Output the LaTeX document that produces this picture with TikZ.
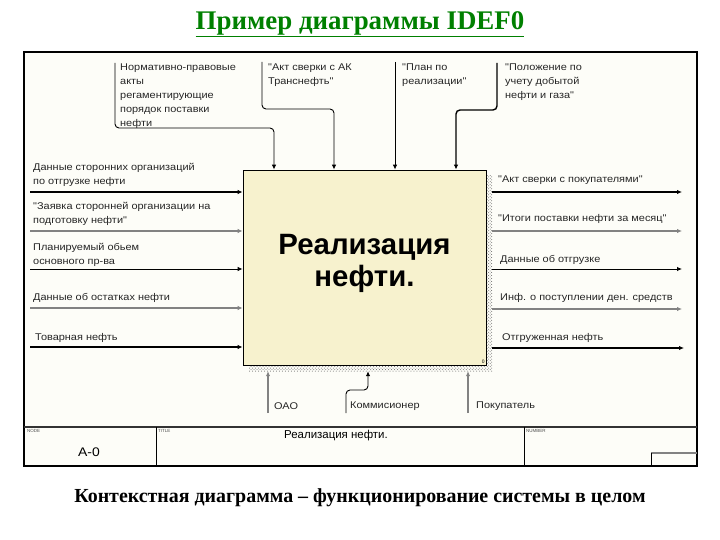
\documentclass[tikz,border=0pt]{standalone}
\usepackage{fontspec}
\setmainfont{Liberation Serif}
\setsansfont{Liberation Sans}
\newfontfamily\widesans[FakeStretch=1.12]{Liberation Sans}
\usetikzlibrary{arrows.meta,patterns}
\definecolor{boxfill}{RGB}{247,242,206}
\definecolor{titlegreen}{RGB}{0,128,0}
\definecolor{lgray}{RGB}{130,130,130}
\definecolor{pagebg}{RGB}{253,253,248}
\begin{document}
\begin{tikzpicture}[x=1bp,y=-1bp,
  lbl/.style={font=\widesans\fontsize{9.8}{14}\selectfont, anchor=north west, inner sep=0pt, align=left, text=black!85},
  arr/.style={-{Latex[length=5bp,width=4.5bp]}, line width=0.9bp, black},
  thickarr/.style={arr, line width=1.7bp},
  grayarr/.style={arr, draw=lgray, line width=1.1bp},
  bracket/.style={rounded corners=4bp},
  tiny/.style={font=\sffamily\fontsize{4.5}{5}\selectfont, anchor=north west, inner sep=0pt, text=black!70}
]
\useasboundingbox (0,0) rectangle (720,540);
\fill[white] (0,0) rectangle (720,540);
\fill[pagebg] (24,52) rectangle (697,466);

% title and caption
\node[font=\bfseries\fontsize{27}{30}\selectfont, text=titlegreen, inner sep=0pt] (title) at (360,24) {\underline{Пример диаграммы IDEF0}};
\node[font=\bfseries\fontsize{20}{24}\selectfont, inner sep=0pt] (caption) at (360,498) {Контекстная диаграмма – функционирование системы в целом};

% frame and title block
\draw[line width=1.8bp] (24,52) rectangle (697,466);
\draw[line width=2bp, black!80] (24,427) -- (697,427);
\draw[line width=1bp] (156,427) -- (156,466);
\draw[line width=1bp] (524,427) -- (524,466);
\draw[line width=1.5bp, lgray] (651,453) -- (697,453);
\draw[line width=0.8bp] (651,453) -- (651,466);
\node[tiny] (nodelbl) at (27,429) {NODE};
\node[tiny] (titlelbl) at (158,429) {TITLE};
\node[tiny] (numlbl) at (526,429) {NUMBER};
\node[font=\widesans\fontsize{12.5}{14}\selectfont, inner sep=0pt] (nodeno) at (89,452) {A-0};
\node[font=\sffamily\fontsize{11.5}{14}\selectfont, inner sep=0pt] (titletxt) at (336,436) {Реализация нефти.};

% activity box
\node[draw=none, pattern=crosshatch dots, pattern color=black!60, minimum width=243bp, minimum height=195bp, inner sep=0pt] (shade) at (370.5,273.5) {};
\node[draw, fill=boxfill, line width=0.8bp, minimum width=243bp, minimum height=195bp, inner sep=0pt] (box) at (364.5,267.5) {};
\node[font=\sffamily\bfseries\fontsize{29.5}{33}\selectfont, align=center, inner sep=0pt] (boxtext) at ([yshift=4bp]box.center) {Реализация\\нефти.};
\node[font=\sffamily\fontsize{5}{6}\selectfont, anchor=south east, inner sep=1.5pt] (boxno) at (box.south east) {0};

% inputs
\coordinate (i1) at (30,192);
\coordinate (i2) at (30,231);
\coordinate (i3) at (30,269);
\coordinate (i4) at (30,308);
\coordinate (i5) at (30,347);
\draw[thickarr] (i1) -- (box.west |- i1);
\draw[grayarr] (i2) -- (box.west |- i2);
\draw[arr] (i3) -- (box.west |- i3);
\draw[grayarr] (i4) -- (box.west |- i4);
\draw[thickarr, line width=2bp] (i5) -- (box.west |- i5);
\node[lbl] (li1) at (33,163) {Данные сторонних организаций\\по отгрузке нефти};
\node[lbl] (li2) at (33,202) {"Заявка сторонней организации на\\подготовку нефти"};
\node[lbl] (li3) at (33,243) {Планируемый обьем\\основного пр-ва};
\node[lbl] (li4) at (33,293) {Данные об остатках нефти};
\node[lbl] (li5) at (35,333) {Товарная нефть};

% outputs
\coordinate (o1) at (682,192);
\coordinate (o2) at (682,231);
\coordinate (o3) at (682,269);
\coordinate (o4) at (682,309);
\coordinate (o5) at (684,348);
\draw[thickarr] (shade.east |- o1) -- (o1);
\draw[grayarr] (shade.east |- o2) -- (o2);
\draw[arr] (shade.east |- o3) -- (o3);
\draw[grayarr] (shade.east |- o4) -- (o4);
\draw[thickarr, line width=2bp] (shade.east |- o5) -- (o5);
\node[lbl] (lo1) at (498,176) {"Акт сверки с покупателями"};
\node[lbl] (lo2) at (498,214) {"Итоги поставки нефти за месяц"};
\node[lbl] (lo3) at (500,255) {Данные об отгрузке};
\node[lbl] (lo4) at (500,293) {Инф. о поступлении ден. средств};
\node[lbl] (lo5) at (502,333) {Отгруженная нефть};

% controls
\coordinate (c1a) at (115,63);
\coordinate (c1b) at (274,128);
\coordinate (c2a) at (262,62);
\coordinate (c2b) at (334,109);
\coordinate (c3a) at (395,62);
\coordinate (c4a) at (497,63);
\coordinate (c4b) at (456,110);
\draw[arr, bracket] (c1a) |- (c1b) -- (box.north -| c1b);
\draw[arr, bracket] (c2a) |- (c2b) -- (box.north -| c2b);
\draw[arr] (c3a) -- (box.north -| c3a);
\draw[thickarr, line width=1.4bp, bracket] (c4a) |- (c4b) -- (box.north -| c4b);
\node[lbl] (lc1) at (120,64) {Нормативно-правовые\\акты\\регаментирующие\\порядок поставки\\нефти};
\node[lbl] (lc2) at (268,64) {"Акт сверки с АК\\Транснефть"};
\node[lbl] (lc3) at (402,64) {"План по\\реализации"};
\node[lbl] (lc4) at (505,64) {"Положение по\\учету добытой\\нефти и газа"};

% mechanisms
\coordinate (m1) at (268,413);
\coordinate (m2a) at (346,413);
\coordinate (m2b) at (368,390);
\coordinate (m3) at (468,413);
\draw[grayarr] (m1) -- (shade.south -| m1);
\draw[arr, bracket] (m2a) |- (m2b) -- (shade.south -| m2b);
\draw[grayarr] (m3) -- (shade.south -| m3);
\node[lbl] (lm1) at (274,402) {ОАО};
\node[lbl] (lm2) at (350,402) {Коммисионер};
\node[lbl] (lm3) at (476,402) {Покупатель};
\end{tikzpicture}
\end{document}
